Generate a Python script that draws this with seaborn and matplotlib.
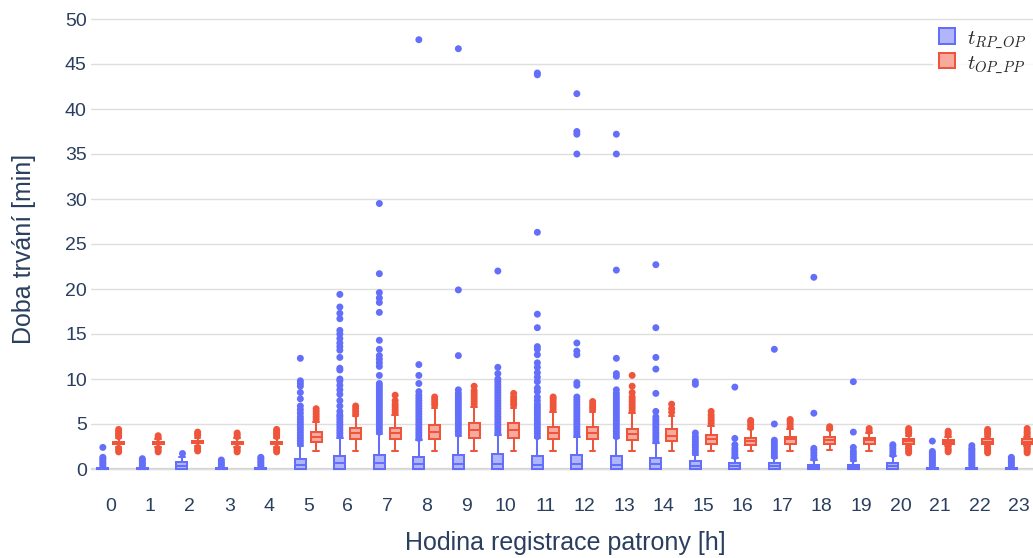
import pandas as pd
import matplotlib
matplotlib.use("Agg")
import matplotlib.pyplot as plt
from matplotlib.patches import Patch
import seaborn as sns

# === DATA ===
hours = list(range(24))
series = ["t_RP_OP", "t_OP_PP"]

# five-number summary per hour: [whisker low, q1, median, q3, whisker high]
rp_op_box = [
    [0, 0, 0, 0.15, 0.15], [0, 0, 0, 0.15, 0.15], [0, 0, 0.35, 0.8, 1.35],
    [0, 0, 0, 0.15, 0.15], [0, 0, 0, 0.15, 0.15], [0, 0, 0.4, 1.1, 2.6],
    [0, 0, 0.65, 1.45, 3.5], [0, 0, 0.7, 1.6, 3.9], [0, 0, 0.6, 1.3, 3.2],
    [0, 0, 0.6, 1.6, 3.7], [0, 0, 0.6, 1.7, 3.8], [0, 0, 0.5, 1.5, 3.4],
    [0, 0, 0.6, 1.6, 3.6], [0, 0, 0.5, 1.5, 3.4], [0, 0, 0.6, 1.2, 2.9],
    [0, 0, 0.35, 0.9, 1.6], [0, 0, 0.35, 0.7, 1.2], [0, 0, 0.35, 0.7, 1.2],
    [0, 0, 0.25, 0.5, 1.0], [0, 0, 0.2, 0.45, 0.9], [0, 0, 0.3, 0.65, 1.4],
    [0, 0, 0, 0.15, 0.15], [0, 0, 0, 0.15, 0.15], [0, 0, 0, 0.15, 0.15],
]
op_pp_box = [
    [2.5, 2.8, 2.9, 3.05, 3.4], [2.5, 2.8, 2.9, 3.0, 3.3], [2.6, 2.85, 3.0, 3.1, 3.5],
    [2.5, 2.8, 2.9, 3.0, 3.4], [2.5, 2.8, 2.9, 3.05, 3.4], [2.0, 3.0, 3.6, 4.1, 5.2],
    [2.0, 3.3, 4.0, 4.6, 5.9], [2.0, 3.3, 4.0, 4.6, 6.0], [2.0, 3.3, 4.1, 4.9, 6.8],
    [2.0, 3.5, 4.3, 5.1, 6.9], [2.0, 3.5, 4.3, 5.1, 6.8], [2.0, 3.3, 4.0, 4.7, 6.3],
    [2.0, 3.3, 4.0, 4.7, 6.3], [2.0, 3.2, 3.85, 4.5, 6.2], [2.0, 3.1, 3.7, 4.4, 5.9],
    [2.0, 2.8, 3.3, 3.8, 4.8], [2.0, 2.7, 3.15, 3.5, 4.4], [2.0, 2.8, 3.3, 3.6, 4.4],
    [2.1, 2.8, 3.25, 3.6, 4.3], [2.0, 2.75, 3.2, 3.5, 4.0], [2.6, 2.8, 3.1, 3.35, 3.7],
    [2.6, 2.8, 3.0, 3.25, 3.6], [2.6, 2.8, 3.05, 3.3, 3.6], [2.6, 2.8, 3.05, 3.3, 3.6],
]

# outlier points per hour
rp_op_out = [
    [0.35, 0.55, 0.75, 0.95, 1.15, 1.3, 2.4],
    [0.35, 0.55, 0.75, 0.95, 1.15],
    [1.8],
    [0.35, 0.55, 0.75, 1.0],
    [0.35, 0.55, 0.75, 0.95, 1.15, 1.3],
    [2.8, 3.1, 3.4, 3.7, 4.0, 4.3, 4.6, 4.9, 5.2, 5.5, 5.8, 6.2, 6.6, 7.0, 7.8, 8.5, 9.2, 9.5, 9.8, 12.3],
    [3.7, 4.0, 4.3, 4.6, 4.9, 5.2, 5.5, 5.8, 6.0, 6.4, 7.0, 7.6, 8.3, 8.8, 9.3, 9.8, 10.0, 11.0, 11.2,
     12.4, 13.2, 13.6, 14.0, 14.5, 15.0, 15.4, 16.7, 17.3, 18.0, 19.4],
    [4.1, 4.4, 4.7, 5.0, 5.3, 5.6, 5.9, 6.2, 6.5, 6.8, 7.1, 7.4, 7.7, 8.0, 8.3, 8.6, 8.9, 9.2, 9.5,
     10.4, 11.4, 11.8, 12.2, 12.6, 13.3, 14.3, 17.4, 18.5, 19.0, 19.6, 21.7, 29.5],
    [3.4, 3.7, 4.0, 4.3, 4.6, 4.9, 5.2, 5.5, 5.8, 6.1, 6.4, 6.7, 7.0, 7.3, 7.6, 7.9, 8.2, 8.6, 9.5,
     10.4, 11.6, 47.7],
    [3.9, 4.2, 4.5, 4.8, 5.1, 5.4, 5.7, 6.0, 6.3, 6.6, 6.9, 7.2, 7.5, 7.8, 8.1, 8.4, 8.8, 12.6, 19.9, 46.7],
    [4.0, 4.3, 4.6, 4.9, 5.2, 5.5, 5.8, 6.1, 6.4, 6.7, 7.0, 7.3, 7.6, 7.9, 8.2, 8.5, 8.8, 9.1, 9.4,
     9.7, 10.0, 10.6, 11.3, 22.0],
    [3.6, 3.9, 4.2, 4.5, 4.8, 5.1, 5.4, 5.7, 6.0, 6.3, 6.6, 6.9, 7.2, 7.6, 8.0, 8.6, 9.0, 9.7, 10.2,
     10.7, 11.3, 11.8, 12.7, 13.3, 13.6, 15.7, 17.2, 26.3, 43.8, 44.0],
    [3.8, 4.1, 4.4, 4.7, 5.0, 5.3, 5.6, 5.9, 6.2, 6.5, 6.8, 7.1, 7.4, 7.7, 8.0, 9.3, 9.6, 12.7, 13.1,
     14.0, 35.0, 37.2, 37.5, 41.7],
    [3.6, 3.9, 4.2, 4.5, 4.8, 5.1, 5.4, 5.7, 6.0, 6.3, 6.6, 6.9, 7.2, 7.5, 7.8, 8.1, 8.4, 8.8, 10.3,
     10.6, 12.3, 22.1, 35.0, 37.2],
    [3.1, 3.4, 3.7, 4.0, 4.3, 4.6, 4.9, 5.2, 5.5, 5.8, 6.4, 8.4, 11.1, 12.4, 15.7, 22.7],
    [1.8, 2.1, 2.4, 2.7, 3.0, 3.3, 3.6, 4.0, 9.4, 9.7],
    [1.4, 1.7, 2.0, 2.3, 2.7, 3.4, 9.1],
    [1.4, 1.7, 2.0, 2.3, 2.6, 2.9, 3.2, 5.0, 13.3],
    [1.2, 1.5, 1.8, 2.1, 2.3, 6.2, 21.3],
    [1.1, 1.4, 1.7, 2.0, 2.4, 4.1, 9.7],
    [1.6, 1.9, 2.2, 2.5, 2.7],
    [0.35, 0.55, 0.75, 0.95, 1.15, 1.35, 1.55, 1.75, 1.95, 3.1],
    [0.35, 0.55, 0.75, 0.95, 1.15, 1.35, 1.55, 1.75, 1.95, 2.15, 2.3, 2.6],
    [0.35, 0.55, 0.75, 0.95, 1.15, 1.3],
]
op_pp_out = [
    [1.9, 2.1, 2.3, 3.6, 3.8, 4.0, 4.2, 4.4],
    [1.9, 2.1, 2.3, 3.5, 3.7],
    [2.0, 2.2, 2.4, 3.7, 3.9, 4.1],
    [1.9, 2.1, 2.3, 3.6, 3.8, 4.0],
    [1.9, 2.1, 2.3, 3.6, 3.8, 4.0, 4.2, 4.4],
    [5.5, 5.8, 6.1, 6.4, 6.7],
    [6.1, 6.4, 6.7, 7.0],
    [6.3, 6.6, 6.9, 7.2, 7.6, 8.2],
    [7.1, 7.4, 7.7, 8.0],
    [7.2, 7.5, 7.8, 8.1, 8.4, 8.7, 9.2],
    [7.1, 7.4, 7.7, 8.0, 8.4],
    [6.6, 6.9, 7.2, 7.5, 7.8, 8.0],
    [6.6, 6.9, 7.2, 7.5],
    [6.5, 6.8, 7.1, 7.4, 7.7, 8.0, 8.5, 9.2, 10.4],
    [6.3, 6.7, 7.2],
    [5.1, 5.4, 5.7, 6.0, 6.4],
    [4.6, 4.9, 5.2, 5.4],
    [4.7, 5.0, 5.3, 5.5],
    [4.5, 4.7],
    [4.2, 4.5],
    [1.8, 2.0, 2.2, 2.4, 3.9, 4.1, 4.3, 4.5],
    [1.9, 2.1, 2.3, 3.8, 4.0, 4.2],
    [1.8, 2.0, 2.2, 2.4, 3.8, 4.0, 4.2, 4.4],
    [1.8, 2.0, 2.2, 2.4, 2.6, 3.8, 4.0, 4.2, 4.5],
]

# === LONG FORM ===
def to_long(per_hour, name):
    rows = []
    for h, vals in zip(hours, per_hour):
        for v in vals:
            rows.append({"hour": h, "series": name, "value": v})
    return pd.DataFrame(rows)

box_df = pd.concat([to_long(rp_op_box, series[0]), to_long(op_pp_box, series[1])])
out_df = pd.concat([to_long(rp_op_out, series[0]), to_long(op_pp_out, series[1])])

# plotly-like colours, fill = 50% over white
line_colors = {series[0]: "#636efa", series[1]: "#ef553b"}
fill_colors = {series[0]: "#b1b6fc", series[1]: "#f7aa9d"}
text_color = "#2a3f5f"

# === PLOT ===
sns.set_style("white")
plt.rcParams["font.family"] = ["Liberation Sans", "DejaVu Sans"]
plt.rcParams["mathtext.fontset"] = "cm"

W, H = 1033, 558
fig = plt.figure(figsize=(W / 100, H / 100), dpi=100)
ax = fig.add_axes([91 / W, (H - 488) / H, 948 / W, 478 / H])

for name in series:
    sns.boxplot(data=box_df[box_df["series"] == name], x="hour", y="value",
                hue="series", hue_order=series, order=hours,
                palette=fill_colors, linecolor=line_colors[name], linewidth=1.45,
                saturation=1, whis=(0, 100), showfliers=False,
                width=0.8, gap=0.3, dodge=True, legend=False, ax=ax)

sns.stripplot(data=out_df, x="hour", y="value", hue="series", hue_order=series,
              order=hours, palette=line_colors, dodge=True, jitter=False,
              size=5, linewidth=0, legend=False, ax=ax)

ax.set_xlim(-0.5, 23.5)
ax.set_ylim(-(488 - 469) / 9, (469 - 10) / 9)
ax.set_yticks(range(0, 51, 5))
ax.set_axisbelow(True)
ax.yaxis.grid(True, color="#dedede", linewidth=1)
ax.xaxis.grid(False)
ax.axhline(0, color="#d4d4d4", linewidth=1.6, zorder=0.5)
sns.despine(ax=ax, left=True, bottom=True)

ax.tick_params(axis="both", length=0, labelsize=14, labelcolor=text_color)
ax.tick_params(axis="x", pad=7)
ax.tick_params(axis="y", pad=3)

ax.set_xlabel("Hodina registrace patrony [h]", fontsize=18, color=text_color)
ax.set_ylabel("Doba trvání [min]", fontsize=18, color=text_color)
ax.xaxis.set_label_coords(0.5, -0.09)
ax.yaxis.set_label_coords(-0.058, 0.5)

handles = [Patch(facecolor=fill_colors[s], edgecolor=line_colors[s], linewidth=1.45) for s in series]
ax.legend(handles, [r"$t_{RP\_OP}$", r"$t_{OP\_PP}$"], loc="upper right",
          bbox_to_anchor=(1.0, 1 - 22 / H), bbox_transform=fig.transFigure,
          frameon=True, facecolor="white", edgecolor="none", fancybox=False,
          fontsize=15, handlelength=0.75, handleheight=0.75, handletextpad=0.6,
          labelspacing=0.15, borderaxespad=0, borderpad=0.3)

fig.savefig("out.png", dpi=100)
